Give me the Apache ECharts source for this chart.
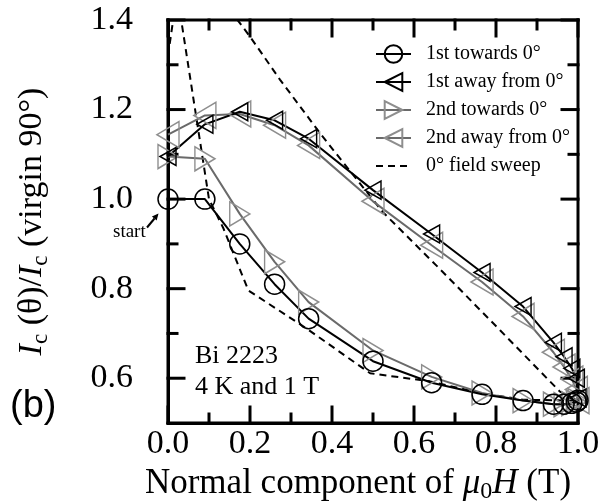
<!DOCTYPE html>
<html><head><meta charset="utf-8">
<script src="https://cdn.jsdelivr.net/npm/echarts@6/dist/echarts.min.js"></script>
<style>html,body{margin:0;padding:0;background:#fff}#c{width:614px;height:501px}</style>
</head><body><div id="c"></div>
<script>
// ---- data ----
const seriesNames = ['1st towards 0°', '1st away from 0°', '2nd towards 0°', '2nd away from 0°', '0° field sweep'];
const xTowards = [0, 0.09, 0.175, 0.26, 0.343, 0.5, 0.643, 0.766, 0.866, 0.94, 0.966, 0.985, 0.996, 1.0];
const xAway = [1.0, 0.996, 0.985, 0.966, 0.94, 0.866, 0.766, 0.643, 0.5, 0.343, 0.26, 0.175, 0.09, 0];
const yTowards1 = [1.0, 1.0, 0.90, 0.81, 0.733, 0.638, 0.59, 0.564, 0.55, 0.542, 0.542, 0.544, 0.547, 0.551];
const yAway1 = [0.556, 0.6, 0.622, 0.648, 0.68, 0.76, 0.836, 0.922, 1.02, 1.135, 1.176, 1.195, 1.167, 1.095];
const yTowards2 = [1.095, 1.09, 0.967, 0.86, 0.77, 0.662, 0.603, 0.567, 0.55, 0.542, 0.541, 0.543, 0.547, 0.55];
const yAway2 = [0.55, 0.575, 0.598, 0.625, 0.658, 0.738, 0.815, 0.897, 0.995, 1.12, 1.165, 1.19, 1.187, 1.144];
const xSweep = [0, 0.022, 0.1, 0.135, 0.196, 0.338, 0.493, 0.639, 0.766, 0.866, 1.0, 0.956, 0.81, 0.663, 0.525, 0.428, 0.371, 0.273, 0.2, 0.12];
const ySweep = [1.32, 1.46, 1.0, 0.935, 0.796, 0.711, 0.611, 0.593, 0.566, 0.552, 0.55, 0.57, 0.707, 0.844, 0.97, 1.081, 1.147, 1.267, 1.363, 1.46];
// ticks
const xTickLabels = [0.0, 0.2, 0.4, 0.6, 0.8, 1.0];
const yTickLabels = [0.6, 0.8, 1.0, 1.2, 1.4];
const xMinorTicks = [0.1, 0.3, 0.5, 0.7, 0.9];
const yMinorTicks = [0.7, 0.9, 1.1, 1.3];
const X_RANGE = [0, 1];
const Y_RANGE = [0.5, 1.4];

const pairs = (xs, ys) => xs.map((x, i) => [x, ys[i]]);
const SERIF = 'Liberation Serif';
const GRAY_LINE = '#6a6a6a', GRAY_MK = '#8e8e8e';
const LEFT_TRI = 'path://M0,10 L20,0 L20,20 Z';
const RIGHT_TRI = 'path://M20,10 L0,0 L0,20 Z';

const chart = echarts.init(document.getElementById('c'));
const off = () => ({show: false});

const option = {
  animation: false,
  backgroundColor: '#fff',
  grid: [{left: 168, right: 36, top: 20, bottom: 78, outerBoundsMode: 'none', containLabel: false, show: false}],
  xAxis: [
    {type: 'value', gridIndex: 0, position: 'bottom', min: X_RANGE[0], max: X_RANGE[1],
      axisLine: {show: true, onZero: false, lineStyle: {color: '#000', width: 3}}, axisTick: off(), splitLine: off(),
      axisLabel: {customValues: xTickLabels.slice(), formatter: v => v.toFixed(1), fontFamily: SERIF, fontSize: 34, color: '#000', margin: 4},
      name: '{n|Normal component of }{i|μ}{s|0}{i|H}{n| (T)}', nameLocation: 'middle', nameGap: 29,
      nameTextStyle: {padding: [0, 30, 0, 0], rich: {
        n: {fontFamily: SERIF, fontSize: 35, color: '#000'},
        i: {fontFamily: SERIF, fontSize: 35, fontStyle: 'italic', color: '#000'},
        s: {fontFamily: SERIF, fontSize: 24, color: '#000', padding: [16, 0, 0, 0]}}}}
  ],
  yAxis: [
    {type: 'value', gridIndex: 0, position: 'left', min: Y_RANGE[0], max: Y_RANGE[1],
      axisLine: {show: true, onZero: false, lineStyle: {color: '#000', width: 3}}, axisTick: off(), splitLine: off(),
      axisLabel: {customValues: yTickLabels.slice(), formatter: v => v.toFixed(1), fontFamily: SERIF, fontSize: 34, color: '#000', margin: 35},
      name: '{i|I}{s|c}{n| (θ)/}{i|I}{s|c}{n| (virgin 90°)}', nameLocation: 'middle', nameGap: 116, nameRotate: 90,
      nameTextStyle: {rich: {
        n: {fontFamily: SERIF, fontSize: 34, color: '#000'},
        i: {fontFamily: SERIF, fontSize: 34, fontStyle: 'italic', color: '#000'},
        s: {fontFamily: SERIF, fontSize: 23, color: '#000', padding: [16, 0, 0, 0]}}}}
  ],
  legend: {
    left: 370, top: 39, orient: 'vertical', itemWidth: 35, itemHeight: 22, itemGap: 8,
    data: seriesNames,
    textStyle: {fontFamily: SERIF, fontSize: 20, color: '#000', padding: [0, 0, 0, 10]}
  },
  series: [
    {name: seriesNames[4], type: 'line', data: pairs(xSweep, ySweep),
      showSymbol: false, symbol: 'circle',
      itemStyle: {color: 'rgba(0,0,0,0)', borderWidth: 0},
      lineStyle: {color: '#000', width: 2, type: [7, 5]}},
    {name: seriesNames[3], type: 'line', data: pairs(xAway, yAway2),
      symbol: LEFT_TRI, symbolSize: [22, 26],
      itemStyle: {color: 'rgba(0,0,0,0)', borderColor: GRAY_MK, borderWidth: 1.5},
      lineStyle: {color: GRAY_LINE, width: 2}},
    {name: seriesNames[2], type: 'line', data: pairs(xTowards, yTowards2),
      symbol: RIGHT_TRI, symbolSize: [20, 24],
      itemStyle: {color: 'rgba(0,0,0,0)', borderColor: GRAY_MK, borderWidth: 1.5},
      lineStyle: {color: GRAY_LINE, width: 2}},
    {name: seriesNames[1], type: 'line', data: pairs(xAway, yAway1),
      symbol: LEFT_TRI, symbolSize: [16, 18],
      itemStyle: {color: 'rgba(0,0,0,0)', borderColor: '#000', borderWidth: 1.5},
      lineStyle: {color: '#000', width: 2}},
    {name: seriesNames[0], type: 'line', data: pairs(xTowards, yTowards1),
      symbol: 'circle', symbolSize: 20,
      itemStyle: {color: 'rgba(0,0,0,0)', borderColor: '#000', borderWidth: 1.5},
      lineStyle: {color: '#000', width: 2}}
  ]
};
chart.setOption(option);

// Frame and ticks positioned through the chart's own axis scales
const px = (x, y) => chart.convertToPixel({xAxisIndex: 0, yAxisIndex: 0}, [x, y]);
const gfx = [];
const bl = px(X_RANGE[0], Y_RANGE[0]), tr = px(X_RANGE[1], Y_RANGE[1]);
const seg = (x1, y1, x2, y2) => ({type: 'line', shape: {x1: x1, y1: y1, x2: x2, y2: y2}, style: {stroke: '#000', lineWidth: 3, lineCap: 'square'}});
gfx.push(seg(bl[0], tr[1], tr[0], tr[1]));   // top
gfx.push(seg(tr[0], tr[1], tr[0], bl[1]));   // right
gfx.push(seg(bl[0], bl[1], tr[0], bl[1]));   // bottom
gfx.push(seg(bl[0], tr[1], bl[0], bl[1]));   // left
const tickAt = (p, dx, dy) => seg(p[0], p[1], p[0] + dx, p[1] + dy);
xTickLabels.forEach(v => { gfx.push(tickAt(px(v, Y_RANGE[0]), 0, -16)); gfx.push(tickAt(px(v, Y_RANGE[1]), 0, 16)); });
xMinorTicks.forEach(v => { gfx.push(tickAt(px(v, Y_RANGE[0]), 0, -9)); gfx.push(tickAt(px(v, Y_RANGE[1]), 0, 9)); });
yTickLabels.forEach(v => { gfx.push(tickAt(px(X_RANGE[0], v), 16, 0)); gfx.push(tickAt(px(X_RANGE[1], v), -16, 0)); });
yMinorTicks.forEach(v => { gfx.push(tickAt(px(X_RANGE[0], v), 9, 0)); gfx.push(tickAt(px(X_RANGE[1], v), -9, 0)); });
// annotations
gfx.push({type: 'text', left: 195, top: 343, style: {text: 'Bi 2223', font: '26px "Liberation Serif"', fill: '#000'}});
gfx.push({type: 'text', left: 195, top: 374, style: {text: '4 K and 1 T', font: '26px "Liberation Serif"', fill: '#000'}});
gfx.push({type: 'text', left: 113, top: 223, style: {text: 'start', font: '19px "Liberation Serif"', fill: '#000'}});
gfx.push({type: 'text', left: 10, top: 388, style: {text: '(b)', font: '38px "Liberation Sans"', fill: '#000'}});
gfx.push({type: 'line', shape: {x1: 147, y1: 227.5, x2: 154.5, y2: 218.5}, style: {stroke: '#000', lineWidth: 2}});
gfx.push({type: 'polygon', shape: {points: [[158.5, 213.5], [156.7, 220.6], [151.9, 216.6]]}, style: {fill: '#000'}});
chart.setOption({graphic: gfx});
</script>
</body></html>
